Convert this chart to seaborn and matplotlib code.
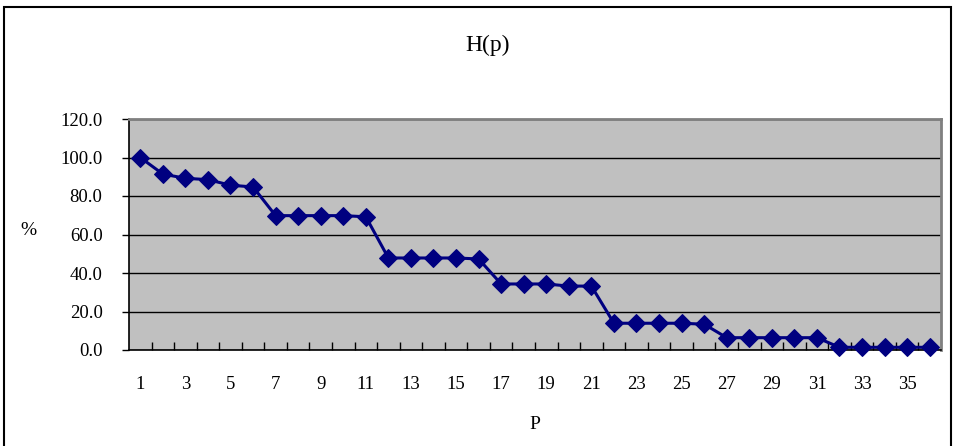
import matplotlib
matplotlib.use("Agg")
import matplotlib.pyplot as plt
import seaborn as sns
import pandas as pd
import numpy as np
from matplotlib.patches import Rectangle

p_values = list(range(1, 37))
h_values = [100.0, 91.4, 89.2, 88.5, 85.6, 84.7,
            69.8, 69.8, 69.8, 69.8, 69.2,
            47.8, 47.8, 47.8, 47.8, 47.3,
            34.3, 34.3, 34.3, 33.2, 33.2,
            13.9, 13.9, 13.9, 13.9, 13.4,
            6.4, 6.4, 6.4, 6.4, 6.4,
            1.4, 1.4, 1.4, 1.4, 1.4]
y_ticks = [0, 20, 40, 60, 80, 100, 120]
x_tick_labels = [str(v) for v in range(1, 37, 2)]

df = pd.DataFrame({"P": p_values, "H": h_values})

sns.set_theme(style="white")
plt.rcParams['font.family'] = ['Liberation Serif', 'DejaVu Serif']
plt.rcParams['text.color'] = 'black'
plt.rcParams['xtick.color'] = 'black'
plt.rcParams['ytick.color'] = 'black'
plt.rcParams['axes.labelcolor'] = 'black'

fig = plt.figure(figsize=(9.54, 4.46), dpi=100)
W, H = 954, 446
ax = fig.add_axes([129 / W, (H - 350) / H, (941 - 129) / W, (350 - 119) / H])
ax.set_facecolor("#C0C0C0")

sns.lineplot(data=df, x="P", y="H", ax=ax, color="#000080", linewidth=2.2,
             marker="D", markersize=9, markeredgecolor="#000080",
             markerfacecolor="#000080", zorder=5, clip_on=False)

ax.set_xlim(0.5, 36.5)
ax.set_ylim(0, 120)
ax.set_yticks(y_ticks)
ax.set_yticklabels([f"{v:.1f}" for v in y_ticks], fontsize=13.5)
ax.yaxis.grid(True, color="black", linewidth=1)
ax.xaxis.grid(False)
ax.set_axisbelow(True)

ax.set_xticks(list(range(1, 37, 2)))
ax.set_xticklabels(x_tick_labels, fontsize=13.5)
ax.set_xticks(np.arange(1.5, 36.5, 1), minor=True)
ax.tick_params(axis="x", which="major", length=0, pad=19)
ax.tick_params(axis="x", which="minor", direction="in", length=6, width=1, color="black", bottom=True)
ax.tick_params(axis="y", which="major", direction="out", length=5, width=1, color="black", left=True, pad=14)

for side in ["top", "right"]:
    ax.spines[side].set_color("#808080")
    ax.spines[side].set_linewidth(2)
for side in ["left", "bottom"]:
    ax.spines[side].set_color("black")
    ax.spines[side].set_linewidth(1.2)

ax.set_xlabel("P", fontsize=14, labelpad=16)
ax.set_ylabel("%", fontsize=14, rotation=0, labelpad=0)
ax.yaxis.set_label_coords(-0.124, 0.48)
fig.text(488 / W, (H - 45) / H, "H(p)", ha="center", va="center", fontsize=17, color="black")

fig.patches.append(Rectangle((4 / W, -0.05), (951 - 4) / W, (H - 7) / H + 0.05,
                             transform=fig.transFigure, fill=False,
                             edgecolor="black", linewidth=1.5))

fig.savefig("out.png", dpi=100, facecolor="white")
